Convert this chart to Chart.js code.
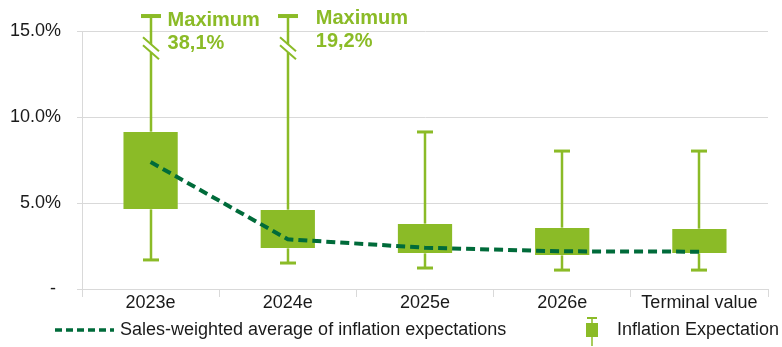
<!DOCTYPE html>
<html>
<head>
<meta charset="utf-8">
<script src="https://cdn.jsdelivr.net/npm/chart.js@4/dist/chart.umd.min.js"></script>
<style>
  html, body { margin: 0; padding: 0; background: #ffffff; overflow: hidden; }
  #wrap { width: 782px; height: 347px; }
</style>
</head>
<body>
<div id="wrap"><canvas id="c" width="782" height="347"></canvas></div>
<script>
// Inflation expectations by horizon (percent)
const categories   = ['2023e', '2024e', '2025e', '2026e', 'Terminal value'];
const boxLow       = [4.59, 2.33, 2.03, 1.92, 2.03];
const boxHigh      = [9.19, 4.65, 3.84, 3.60, 3.55];
const whiskerMin   = [1.69, 1.51, 1.22, 1.10, 1.10];
const whiskerMax   = [38.1, 19.2, 9.13, 8.02, 8.02];
const weightedAvg  = [7.38, 2.89, 2.40, 2.19, 2.17];
const yTickValues  = [0, 5, 10, 15];

const seriesNames = ['Sales-weighted average of inflation expectations', 'Inflation Expectation'];

const GREEN = '#8bbb27';
const DARK  = '#006b3a';
const FONT  = "'Liberation Sans', Arial, sans-serif";

const AXIS_MAX   = 15;
const BROKEN_TOP = 15.87;   // where an off-scale whisker is cut
const BREAK_AT   = 14.0;    // where the break marks sit
const MAX_LABEL_DX = [17, 28];   // horizontal offset of the "Maximum" notes
const MAX_LABEL_DY = [0, -2];

const boxWhiskers = {
  id: 'boxWhiskers',
  beforeDatasetsDraw(chart) {
    const { ctx } = chart;
    const xs = chart.scales.x, ys = chart.scales.y;
    ctx.save();
    ctx.strokeStyle = GREEN;
    ctx.fillStyle = GREEN;
    categories.forEach((c, i) => {
      ctx.lineWidth = 2.5;
      const cx = Math.round(xs.getPixelForValue(i));
      const broken = whiskerMax[i] > AXIS_MAX;
      const yTop = ys.getPixelForValue(broken ? BROKEN_TOP : whiskerMax[i]);
      const yBot = ys.getPixelForValue(whiskerMin[i]);
      ctx.beginPath();
      if (broken) {
        const yb = ys.getPixelForValue(BREAK_AT);
        ctx.moveTo(cx, yTop); ctx.lineTo(cx, yb - 4);
        ctx.moveTo(cx, yb + 4); ctx.lineTo(cx, yBot);
        ctx.stroke();
        // break marks
        ctx.lineWidth = 2;
        ctx.beginPath();
        [-4, 4].forEach(d => {
          ctx.moveTo(cx - 8, yb + d - 7);
          ctx.lineTo(cx + 8, yb + d + 7);
        });
        ctx.stroke();
        ctx.fillRect(cx - 10, yTop - 2, 20, 4);
      } else {
        ctx.moveTo(cx, yTop); ctx.lineTo(cx, yBot);
        ctx.stroke();
        ctx.fillRect(cx - 8, yTop - 1.5, 16, 3);
      }
      ctx.fillRect(cx - 8, yBot - 1.5, 16, 3);
    });
    ctx.restore();
  },
  afterDatasetsDraw(chart) {
    const { ctx } = chart;
    const xs = chart.scales.x, ys = chart.scales.y;
    ctx.save();
    ctx.fillStyle = GREEN;
    ctx.font = 'bold 20px ' + FONT;
    ctx.textAlign = 'left';
    ctx.textBaseline = 'alphabetic';
    let k = 0;
    categories.forEach((c, i) => {
      if (whiskerMax[i] <= AXIS_MAX) return;
      const cx = xs.getPixelForValue(i) + MAX_LABEL_DX[k];
      const yTop = ys.getPixelForValue(BROKEN_TOP) + MAX_LABEL_DY[k];
      ctx.fillText('Maximum', cx, yTop + 10);
      ctx.fillText(whiskerMax[i].toFixed(1).replace('.', ',') + '%', cx, yTop + 33);
      k++;
    });
    ctx.restore();
  },
  afterDraw(chart) {
    const { ctx } = chart;
    ctx.save();
    const ly = 330;
    // line series key
    ctx.strokeStyle = DARK;
    ctx.lineWidth = 3.5;
    ctx.setLineDash([7, 4]);
    ctx.beginPath();
    ctx.moveTo(55, ly); ctx.lineTo(114, ly);
    ctx.stroke();
    ctx.setLineDash([]);
    // box series key
    ctx.strokeStyle = GREEN;
    ctx.fillStyle = GREEN;
    ctx.lineWidth = 1.5;
    ctx.beginPath();
    ctx.moveTo(592, 318); ctx.lineTo(592, 346);
    ctx.stroke();
    ctx.fillRect(587, 317, 10, 2);
    ctx.fillRect(586, 323, 12, 14);
    // texts
    ctx.fillStyle = '#1a1a1a';
    ctx.font = '18px ' + FONT;
    ctx.textBaseline = 'middle';
    ctx.textAlign = 'left';
    ctx.fillText(seriesNames[0], 120, ly);
    ctx.fillText(seriesNames[1], 617, ly);
    ctx.restore();
  }
};

new Chart(document.getElementById('c'), {
  data: {
    labels: categories,
    datasets: [
      {
        type: 'line',
        label: seriesNames[0],
        data: weightedAvg,
        borderColor: DARK,
        borderWidth: 4,
        borderDash: [9, 5],
        pointRadius: 0,
        tension: 0,
        fill: false,
        order: 0
      },
      {
        type: 'bar',
        label: seriesNames[1],
        data: boxLow.map((lo, i) => [lo, boxHigh[i]]),
        backgroundColor: GREEN,
        borderColor: 'rgba(255,255,255,0.35)',
        borderWidth: 1,
        borderSkipped: false,
        barPercentage: 0.41,
        categoryPercentage: 1,
        order: 1
      }
    ]
  },
  options: {
    responsive: false,
    animation: false,
    devicePixelRatio: 1,
    layout: { padding: { top: 31, right: 14, left: 0, bottom: 0 } },
    plugins: { legend: { display: false }, tooltip: { enabled: false }, title: { display: false } },
    scales: {
      x: {
        type: 'category',
        offset: true,
        grid: { offset: true, drawOnChartArea: false, drawTicks: true, tickLength: 8, color: '#d9d9d9' },
        border: { color: '#d9d9d9', width: 1 },
        ticks: { color: '#1a1a1a', font: { family: FONT, size: 18 }, padding: -5, maxRotation: 0, autoSkip: false },
        afterFit(scale) { scale.height = 58; }
      },
      y: {
        min: 0,
        max: AXIS_MAX,
        afterBuildTicks(scale) { scale.ticks = yTickValues.map(v => ({ value: v })); },
        grid: { color: '#d9d9d9', lineWidth: 1, tickLength: 5 },
        border: { color: '#d9d9d9', width: 1 },
        ticks: {
          color: '#1a1a1a',
          font: { family: FONT, size: 18 },
          padding: 16,
          callback: v => v === 0 ? '- ' : v.toFixed(1) + '%'
        },
        afterFit(scale) { scale.width = 82; }
      }
    }
  },
  plugins: [boxWhiskers]
});
</script>
</body>
</html>
